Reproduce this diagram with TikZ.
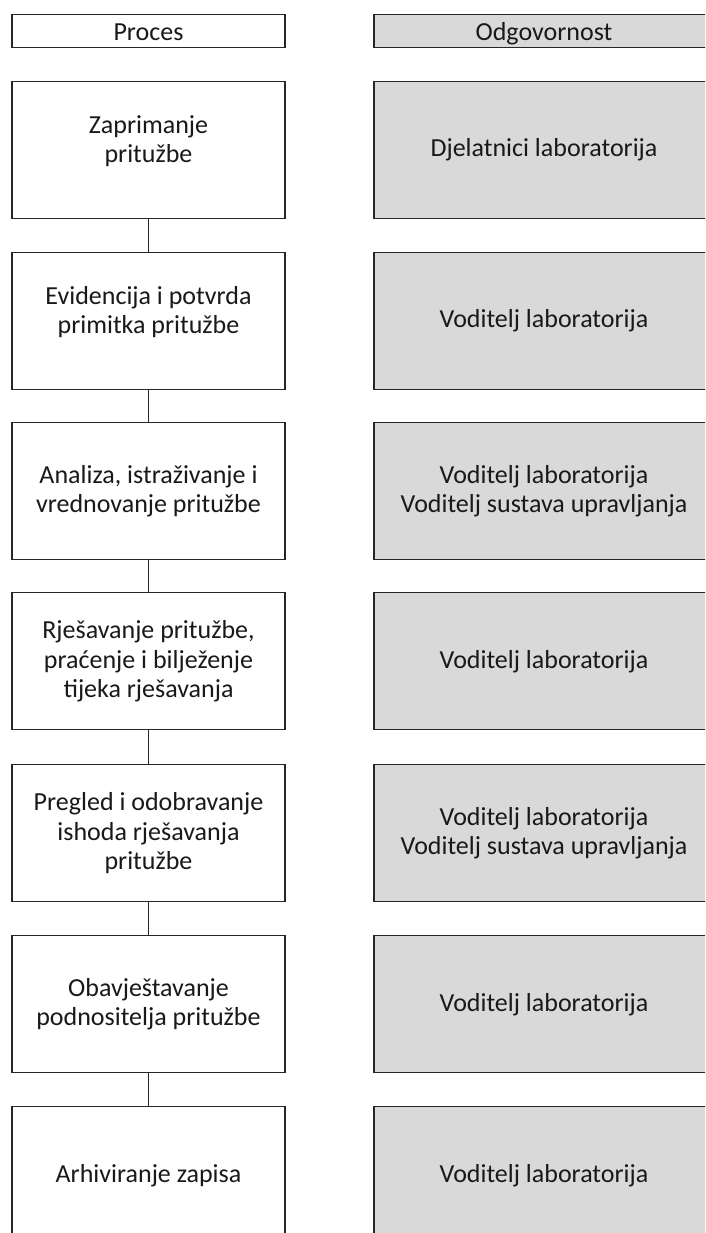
\documentclass[tikz,border=0pt]{standalone}
\usepackage{fontspec}
\setmainfont{Carlito}
\definecolor{cellgray}{HTML}{D9D9D9}
\definecolor{edge}{HTML}{262626}
\begin{document}
\begin{tikzpicture}[x=1pt,y=-1pt,
  base/.style={draw=edge, line width=1.4pt, anchor=north, align=center, inner sep=0pt, text=black!90,
    font=\fontsize{26}{29.5}\selectfont},
  procbox/.style={base, fill=white, minimum width=273pt, minimum height=137pt},
  respbox/.style={base, fill=cellgray, minimum width=340pt, minimum height=137pt},
  headbox/.style={base, minimum height=33pt, text height=21pt, text depth=3pt},
  prochead/.style={headbox, fill=white, minimum width=273pt},
  resphead/.style={headbox, fill=cellgray, minimum width=340pt},
  raised/.style={text depth=22pt},
  link/.style={draw=edge, line width=1.4pt}]
\useasboundingbox (0,0) rectangle (705,1233);
\clip (0,0) rectangle (705,1233);
\node[prochead] (hp) at (148.5,14) {Proces};
\node[resphead] (hr) at (544,14) {Odgovornost};

\node[procbox,raised] (p1) at (148.5,81) {Zaprimanje\\pritužbe};
\node[procbox,raised] (p2) at (148.5,252) {Evidencija i potvrda\\primitka pritužbe};
\node[procbox] (p3) at (148.5,422) {Analiza, istraživanje i\\vrednovanje pritužbe};
\node[procbox] (p4) at (148.5,592) {Rješavanje pritužbe,\\praćenje i bilježenje\\tijeka rješavanja};
\node[procbox] (p5) at (148.5,764) {Pregled i odobravanje\\ishoda rješavanja\\pritužbe};
\node[procbox] (p6) at (148.5,935) {Obavještavanje\\podnositelja pritužbe};
\node[procbox] (p7) at (148.5,1106) {Arhiviranje zapisa};

\node[respbox] (r1) at (544,81) {Djelatnici laboratorija};
\node[respbox] (r2) at (544,252) {Voditelj laboratorija};
\node[respbox] (r3) at (544,422) {Voditelj laboratorija\\Voditelj sustava upravljanja};
\node[respbox] (r4) at (544,592) {Voditelj laboratorija};
\node[respbox] (r5) at (544,764) {Voditelj laboratorija\\Voditelj sustava upravljanja};
\node[respbox] (r6) at (544,935) {Voditelj laboratorija};
\node[respbox] (r7) at (544,1106) {Voditelj laboratorija};

\foreach \a/\b in {p1/p2,p2/p3,p3/p4,p4/p5,p5/p6,p6/p7}
  \draw[link] (\a.south) -- (\b.north);
\end{tikzpicture}
\end{document}
